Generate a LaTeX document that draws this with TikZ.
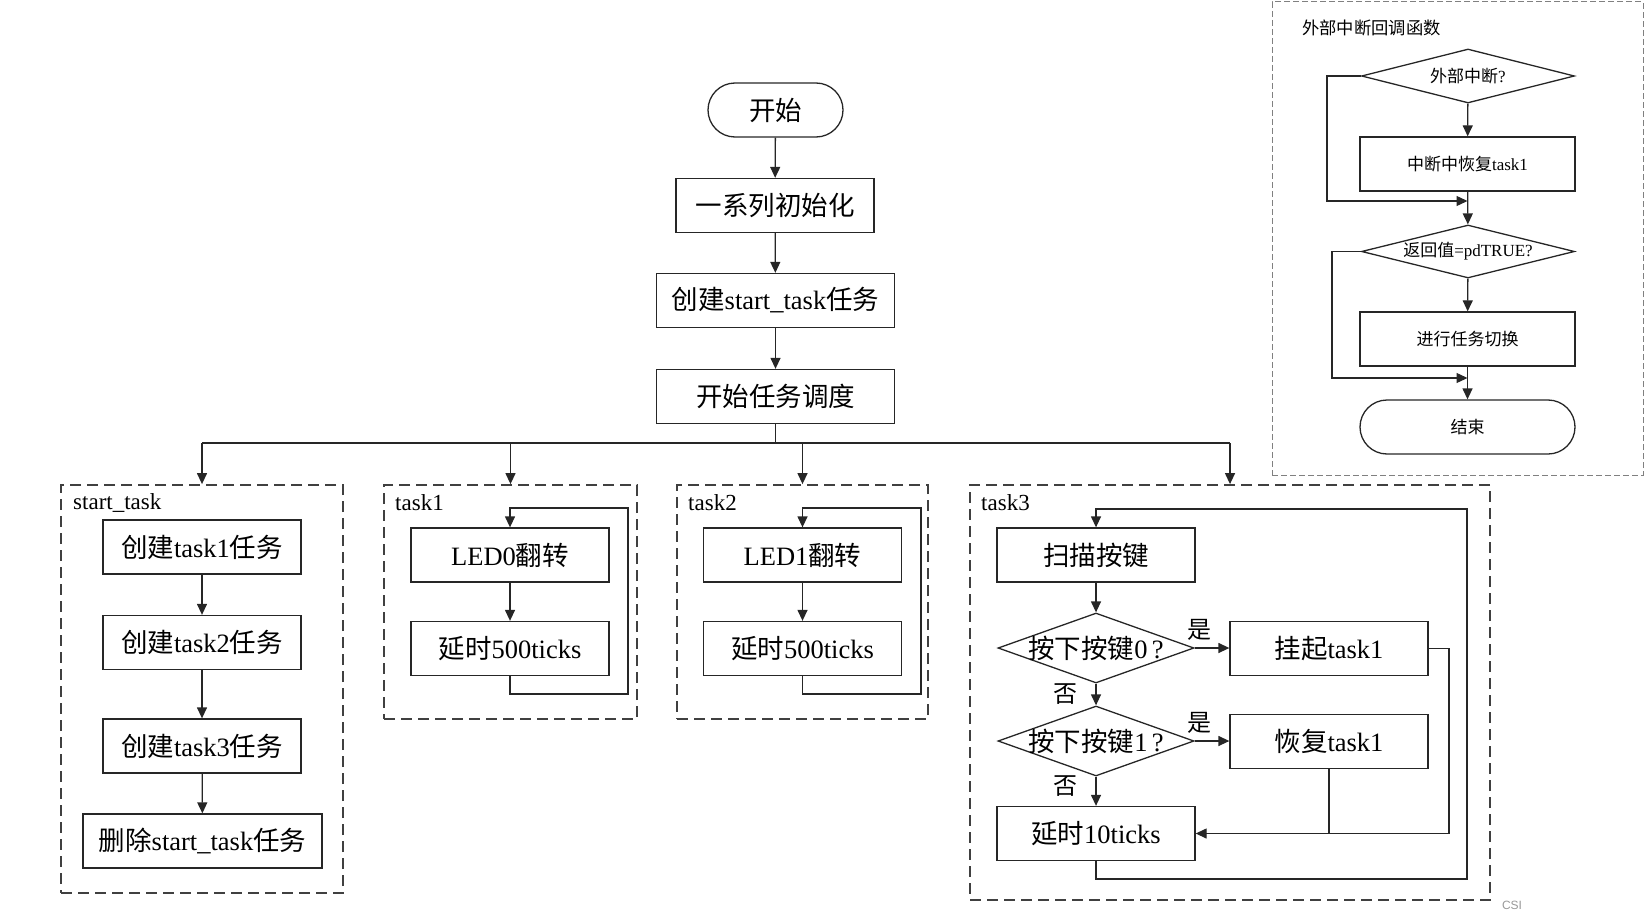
\documentclass[tikz,border=0pt]{standalone}
\usepackage{fontspec}
\setmainfont{Liberation Serif}
\newfontfamily\cjk{Noto Sans CJK SC}
\newfontfamily\wmfont{Liberation Sans}
\usetikzlibrary{arrows.meta,shapes.geometric}
\newcommand\zh[1]{{\cjk #1}}
\begin{document}
\begin{tikzpicture}[x=1pt,y=-1pt,
  line/.style={draw=black!85, line width=1.3pt},
  arr/.style={line, -{Triangle[length=11pt,width=10pt]}},
  box/.style={line, rectangle, inner sep=0pt, minimum width=198pt, minimum height=54pt, font=\fontsize{26.5}{26.5}\selectfont},
  term/.style={box, rounded corners=27pt},
  diam/.style={line, diamond, inner sep=0pt, minimum width=196pt, minimum height=70pt},
  grp/.style={draw=black!75, line width=1.8pt, dash pattern=on 11pt off 6pt, rectangle, inner sep=0pt},
  grplabel/.style={anchor=west, inner sep=0pt, font=\fontsize{23}{23}\selectfont},
  yn/.style={inner sep=0pt, font=\fontsize{24}{24}\selectfont},
  sbox/.style={line, rectangle, inner sep=0pt, minimum width=215pt, minimum height=54pt, font=\fontsize{17}{17}\selectfont},
  sdiam/.style={line, diamond, inner sep=0pt, minimum width=213pt, minimum height=54pt},
]
\useasboundingbox (0,0) rectangle (1645,923);

% ---------- main column ----------
\node[term, minimum width=135pt] (start) at (775.5,110) {\zh{开始}};
\node[box] (init) at (775,205.5) {\zh{一系列初始化}};
\node[box, minimum width=238pt] (cst) at (775.5,300.5) {\zh{创建}start\_task\zh{任务}};
\node[box, minimum width=238pt] (sched) at (775.5,396.5) {\zh{开始任务调度}};
\draw[arr] (start) -- (init);
\draw[arr] (init) -- (cst);
\draw[arr] (cst) -- (sched);

% ---------- group frames ----------
\node[grp, minimum width=282pt, minimum height=408pt] (gS) at (202,689) {};
\node[grp, minimum width=253pt, minimum height=234pt] (g1) at (510.5,602) {};
\node[grp, minimum width=251pt, minimum height=234pt] (g2) at (802.5,602) {};
\node[grp, minimum width=520pt, minimum height=415pt] (g3) at (1230,692.5) {};
\node[grplabel] (lS) at (73,503) {start\_task};
\node[grplabel] (l1) at (395,503) {task1};
\node[grplabel] (l2) at (688,503) {task2};
\node[grplabel] (l3) at (981,503) {task3};

% bus
\coordinate (bus) at (775.5,443);
\draw[line, line width=1.8pt] (sched.south) -- (bus);
\draw[line, line width=1.8pt] (gS.north |- bus) -- (g3.north |- bus);
\draw[arr] (gS.north |- bus) -- (gS.north);
\draw[arr] (g1.north |- bus) -- (g1.north);
\draw[arr] (g2.north |- bus) -- (g2.north);
\draw[arr] (g3.north |- bus) -- (g3.north);

% ---------- start_task ----------
\node[box] (c1) at (202,547) {\zh{创建}task1\zh{任务}};
\node[box] (c2) at (202,642.5) {\zh{创建}task2\zh{任务}};
\node[box] (c3) at (202,746) {\zh{创建}task3\zh{任务}};
\node[box, minimum width=239pt] (del) at (202.5,841) {\zh{删除}start\_task\zh{任务}};
\draw[arr] (c1) -- (c2);
\draw[arr] (c2) -- (c3);
\draw[arr] (c3) -- (del);

% ---------- task1 ----------
\node[box] (led0) at (510,555) {LED0\zh{翻转}};
\node[box] (w1) at (510,648.5) {\zh{延时}500ticks};
\draw[arr] (led0) -- (w1);
\coordinate (t1a) at (628,694);
\coordinate (t1b) at (628,508);
\draw[arr] (w1.south) |- (t1a) -- (t1b) -| (led0.north);

% ---------- task2 ----------
\node[box] (led1) at (802.5,555) {LED1\zh{翻转}};
\node[box] (w2) at (802.5,648.5) {\zh{延时}500ticks};
\draw[arr] (led1) -- (w2);
\coordinate (t2a) at (921,694);
\coordinate (t2b) at (921,508);
\draw[arr] (w2.south) |- (t2a) -- (t2b) -| (led1.north);

% ---------- task3 ----------
\node[box] (scan) at (1096,555) {\zh{扫描按键}};
\node[diam, label={[font=\fontsize{26.5}{26.5}\selectfont]center:\zh{按下按键}0\,?}] (k0) at (1096,648) {};
\node[diam, label={[font=\fontsize{26.5}{26.5}\selectfont]center:\zh{按下按键}1\,?}] (k1) at (1096,741) {};
\node[box] (hang) at (1329,648.5) {\zh{挂起}task1};
\node[box] (res) at (1329,741.5) {\zh{恢复}task1};
\node[box] (w3) at (1096,833.5) {\zh{延时}10ticks};
\draw[arr] (scan) -- (k0);
\draw[arr] (k0.south) -- (k1.north);
\draw[arr] (k1.south) -- (w3.north);
\draw[arr] (k0.east) -- (hang.west |- k0.east);
\draw[arr] (k1.east) -- (res.west |- k1.east);
\node[yn] (y0) at (1199,630) {\zh{是}};
\node[yn] (y1) at (1199,723) {\zh{是}};
\node[yn] (n0) at (1065,694) {\zh{否}};
\node[yn] (n1) at (1065,786) {\zh{否}};
\coordinate (h3) at (1449,833.5);
\draw[arr] (hang.east) -| (h3) -- (w3.east);
\draw[line] (res.south) -- (res.south |- h3);
\coordinate (t3a) at (1467,879);
\coordinate (t3b) at (1467,509);
\draw[arr] (w3.south) |- (t3a) -- (t3b) -| (scan.north);

% ---------- interrupt callback ----------
\node[draw=black!50, line width=1pt, dash pattern=on 6pt off 3pt, rectangle, inner sep=0pt,
      minimum width=371pt, minimum height=473pt] (gi) at (1457.5,238.5) {};
\node[anchor=west, inner sep=0pt, font=\fontsize{17.3}{17.3}\selectfont] (ti) at (1302,27.5) {\zh{外部中断回调函数}};
\node[sdiam, label={[font=\fontsize{17}{17}\selectfont]center:\zh{外部中断}?}] (id1) at (1468,76) {};
\node[sbox] (ib1) at (1467.5,164) {\zh{中断中恢复}task1};
\node[sdiam, minimum height=53pt, label={[font=\fontsize{17}{17}\selectfont]center:\zh{返回值}=pdTRUE?}] (id2) at (1468,251.5) {};
\node[sbox] (ib2) at (1467.5,339) {\zh{进行任务切换}};
\node[sbox, rounded corners=27pt] (iend) at (1467.5,427) {\zh{结束}};
\draw[arr] (id1) -- (ib1);
\draw[arr] (ib1) -- (id2);
\draw[arr] (id2) -- (ib2);
\draw[arr] (ib2) -- (iend);
\coordinate (ia) at (1327,201);
\coordinate (ij1) at (1467.5,201);
\draw[arr] (id1.west) -| (ia) -- (ij1);
\coordinate (ib) at (1332,378);
\coordinate (ij2) at (1467.5,378);
\draw[arr] (id2.west) -| (ib) -- (ij2);

% watermark
\node[text=black!40, inner sep=0pt, font=\wmfont\fontsize{12}{12}\selectfont] (wm) at (1512,905) {CSI};
\end{tikzpicture}
\end{document}
